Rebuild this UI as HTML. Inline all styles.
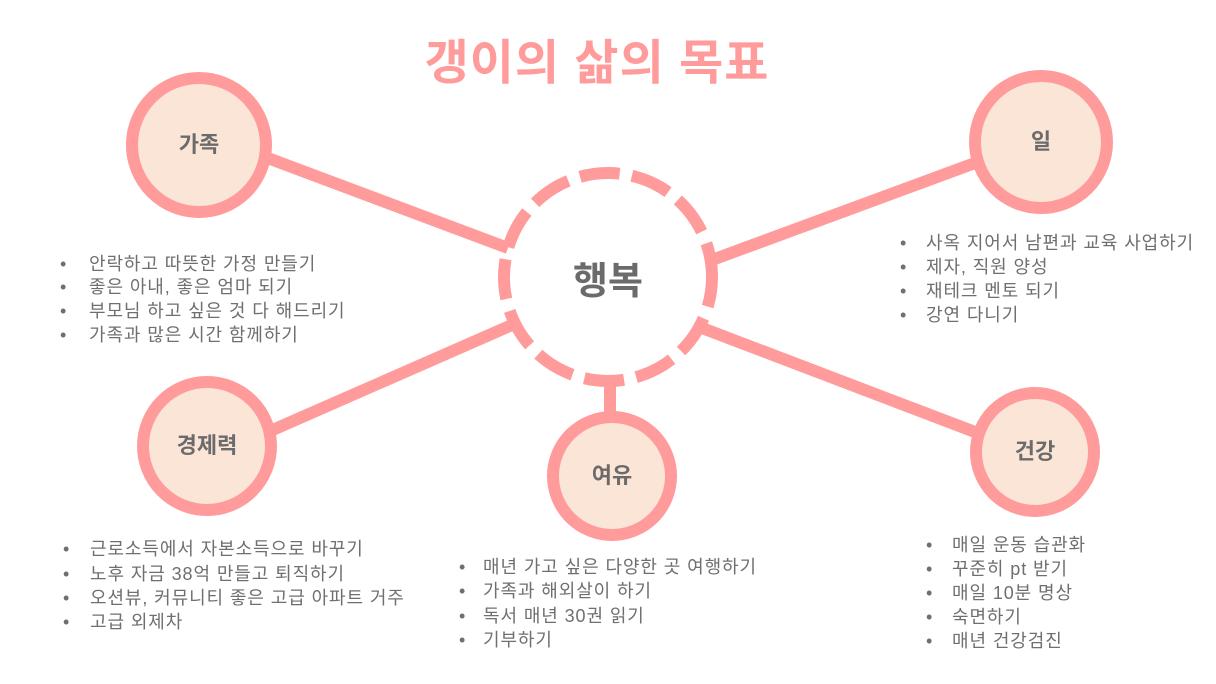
<!DOCTYPE html>
<html><head><meta charset="utf-8"><style>
body{margin:0;width:1216px;height:684px;background:#fff;position:relative;overflow:hidden;font-family:"Liberation Sans","Noto Sans CJK KR",sans-serif;}
.l{position:absolute;font-size:18px;letter-spacing:0.9px;line-height:24px;color:#6f6f6f;white-space:nowrap;}
.b{position:absolute;font-size:18px;line-height:24px;color:#6f6f6f;}
.n{position:absolute;font-size:22px;color:#6b6b6b;font-weight:bold;text-align:center;width:200px;line-height:30px;}
</style></head><body>
<svg width="1216" height="684" style="position:absolute;left:0;top:0">
<g stroke="#ff9b9b" stroke-width="12" fill="none">
<line x1="265" y1="157" x2="508" y2="248"/>
<line x1="712" y1="260" x2="975" y2="163"/>
<line x1="268" y1="432" x2="512" y2="325"/>
<line x1="702" y1="328" x2="975" y2="432"/>
<line x1="610" y1="385" x2="610" y2="418"/>
<circle cx="608" cy="277" r="104" stroke-dasharray="40 12.4" stroke-dashoffset="10"/>
</g>
<g stroke="#ff9b9b" stroke-width="12" fill="#fbe5d7">
<circle cx="199" cy="145" r="67"/>
<circle cx="1041" cy="142" r="66"/>
<circle cx="207" cy="446" r="64"/>
<circle cx="612" cy="476" r="59"/>
<circle cx="1035" cy="452" r="59"/>
</g>
</svg>
<div style="position:absolute;left:0;width:1194px;top:34px;text-align:center;font-size:48px;letter-spacing:1px;font-weight:bold;color:#ff9b9b;line-height:60px;">갱이의 삶의 목표</div>
<div class="n" style="left:508px;top:262px;font-size:38px;line-height:40px;">행복</div>
<div class="n" style="left:99px;top:130px">가족</div>
<div class="n" style="left:941px;top:127px">일</div>
<div class="n" style="left:107px;top:431px">경제력</div>
<div class="n" style="left:512px;top:461px">여유</div>
<div class="n" style="left:935px;top:437px">건강</div>

<div class="b" style="left:60px;top:252px">•</div><div class="l" style="left:89px;top:252px">안락하고 따뜻한 가정 만들기</div>
<div class="b" style="left:60px;top:275px">•</div><div class="l" style="left:89px;top:275px">좋은 아내, 좋은 엄마 되기</div>
<div class="b" style="left:60px;top:299px">•</div><div class="l" style="left:89px;top:299px">부모님 하고 싶은 것 다 해드리기</div>
<div class="b" style="left:60px;top:323px">•</div><div class="l" style="left:89px;top:323px">가족과 많은 시간 함께하기</div>

<div class="b" style="left:900px;top:231px">•</div><div class="l" style="left:926px;top:231px">사옥 지어서 남편과 교육 사업하기</div>
<div class="b" style="left:900px;top:255px">•</div><div class="l" style="left:926px;top:255px">제자, 직원 양성</div>
<div class="b" style="left:900px;top:279px">•</div><div class="l" style="left:926px;top:279px">재테크 멘토 되기</div>
<div class="b" style="left:900px;top:303px">•</div><div class="l" style="left:926px;top:303px">강연 다니기</div>

<div class="b" style="left:63px;top:537px">•</div><div class="l" style="left:90px;top:537px">근로소득에서 자본소득으로 바꾸기</div>
<div class="b" style="left:63px;top:562px">•</div><div class="l" style="left:90px;top:562px">노후 자금 38억 만들고 퇴직하기</div>
<div class="b" style="left:63px;top:586px">•</div><div class="l" style="left:90px;top:586px">오션뷰, 커뮤니티 좋은 고급 아파트 거주</div>
<div class="b" style="left:63px;top:610px">•</div><div class="l" style="left:90px;top:610px">고급 외제차</div>

<div class="b" style="left:459px;top:555px">•</div><div class="l" style="left:483px;top:555px">매년 가고 싶은 다양한 곳 여행하기</div>
<div class="b" style="left:459px;top:579px">•</div><div class="l" style="left:483px;top:579px">가족과 해외살이 하기</div>
<div class="b" style="left:459px;top:604px">•</div><div class="l" style="left:483px;top:604px">독서 매년 30권 읽기</div>
<div class="b" style="left:459px;top:628px">•</div><div class="l" style="left:483px;top:628px">기부하기</div>

<div class="b" style="left:926px;top:533px">•</div><div class="l" style="left:952px;top:533px">매일 운동 습관화</div>
<div class="b" style="left:926px;top:557px">•</div><div class="l" style="left:952px;top:557px">꾸준히 pt 받기</div>
<div class="b" style="left:926px;top:581px">•</div><div class="l" style="left:952px;top:581px">매일 10분 명상</div>
<div class="b" style="left:926px;top:605px">•</div><div class="l" style="left:952px;top:605px">숙면하기</div>
<div class="b" style="left:926px;top:629px">•</div><div class="l" style="left:952px;top:629px">매년 건강검진</div>
</body></html>
